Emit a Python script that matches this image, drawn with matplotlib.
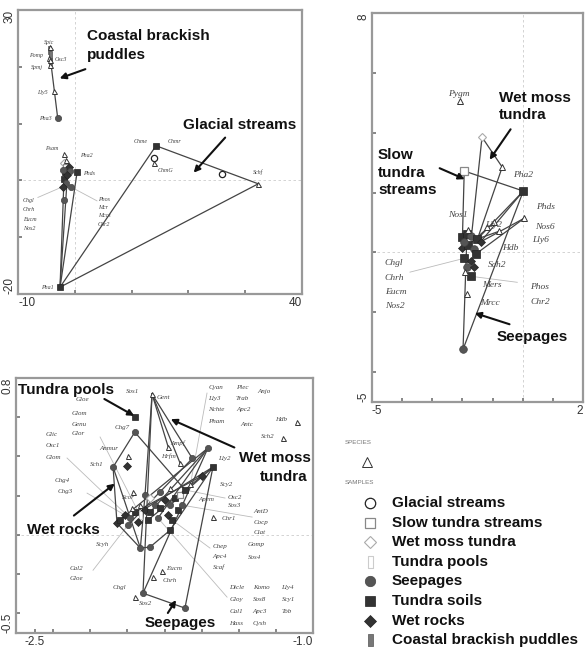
import matplotlib
matplotlib.use('Agg')
import matplotlib.pyplot as plt

W, H = 586, 653

group_names = ['Glacial streams', 'Slow tundra streams', 'Wet moss tundra', 'Tundra pools',
               'Seepages', 'Tundra soils', 'Wet rocks', 'Coastal brackish puddles']
SP = 8  # species marker

# ---- panel A (top left) ----
a_x = [-4.5, -4.4, -4.4, -4.3, -4.5, -4.3, -4.4, -3.7, -3.0, -1.9, -1.5, 0.4, -2.6, 14.3, 14.0,
       14.0, 25.9, 32.3, -1.9, -1.55, -1.0, -1.7, -0.85, -1.9, -1.55, -2.1, -1.9, -1.3, -2.0, -0.6]
a_y = [23.0, 22.0, 20.8, 23.4, 21.6, 21.2, 20.3, 15.7, 10.9, 4.7, 3.6, 1.4, -18.8, 6.1, 4.0,
       3.1, 1.2, -0.6, 3.0, 2.3, 2.4, 1.4, 1.7, 0.3, -0.4, -1.1, -3.4, 0.9, 1.9, -1.2]
a_kind = [7, 7, 7, SP, SP, SP, SP, SP, 4, SP, SP, 5, 5, 5, 0,
          SP, 0, SP, 2, 1, 6, 5, 4, 5, 4, 6, 4, 6, 4, 4]
a_links = [(0, 8), (12, 13), (13, 17), (12, 17), (12, 23), (12, 27), (12, 11)]
a_txt = ['Spic', 'Pomp', 'Osc3', 'Spmj', 'Lly5', 'Pha3', 'Psam', 'Pha2', 'Phds', 'Chme', 'Chmr',
         'ChmG', 'Schf', 'Pha1', 'Chgl', 'Chrh', 'Eucm', 'Nos2', 'Phos', 'Mcr', 'Mccs', 'Chr2']
a_tx = [-4.54, -5.6, -3.49, -5.6, -4.7, -4.0, -2.96, 0.92, 1.44, 12.9, 16.4,
        14.6, 31.4, -3.66, -9.1, -9.1, -9.1, -9.1, 4.08, 4.08, 4.08, 4.08]
a_ty = [24.35, 22.05, 21.34, 19.9, 15.5, 10.9, 5.6, 4.4, 1.2, 6.85, 6.85,
        1.7, 1.4, -18.8, -3.57, -5.16, -6.9, -8.5, -3.4, -4.8, -6.2, -7.8]
a_ha = ['center', 'right', 'left', 'right', 'right', 'right', 'right', 'left', 'left', 'right', 'left',
        'left', 'left', 'right'] + ['left'] * 8
a_leaders = [(-6.5, -3.0, 25), (3.9, -3.6, 29)]

# ---- panel B (top right) ----
b_x = [-2.08, -1.35, -0.68, -1.94, 0.02, 0.05, -1.71, -1.84, -1.98, -1.8, -1.2, -0.95, -0.8,
       -2.0, -1.85, -1.7, -1.5, -1.4, -2.0, -1.8, -1.6, -1.95, -1.7, -1.55, -1.85, -1.6, -1.95, -1.9]
b_y = [5.06, 3.85, 2.85, 2.72, 2.05, 1.14, -0.8, -1.4, -3.24, 0.75, 0.85, 1.0, 0.7,
       0.5, 0.6, 0.55, 0.45, 0.35, 0.15, 0.25, 0.1, -0.2, -0.3, -0.05, -0.5, -0.5, 0.35, -0.65]
b_kind = [SP, 2, SP, 1, 5, SP, 5, SP, 4, SP, SP, SP, SP,
          5, 5, 4, 5, 6, 6, 5, 4, 5, 6, 5, 4, 6, 4, SP]
b_links = [(8, 14), (8, 4), (3, 4), (3, 13), (1, 2), (1, 15), (2, 16), (17, 4), (16, 4),
           (17, 5), (23, 5), (19, 11), (16, 12)]
b_txt = ['Pygm', 'Pha2', 'Phds', 'Nos6', 'Lly6', 'Nos1', 'Lly2', 'Hdb', 'Sch2', 'Mers', 'Mrcc',
         'Phos', 'Chr2', 'Chgl', 'Chrh', 'Eucm', 'Nos2']
b_tx = [-2.12, -0.32, 0.45, 0.42, 0.32, -1.84, -1.25, -0.68, -1.15, -1.35, -1.41,
        0.25, 0.25, -4.57, -4.57, -4.57, -4.57]
b_ty = [5.3, 2.58, 1.51, 0.84, 0.41, 1.24, 0.91, 0.14, -0.43, -1.1, -1.7,
        -1.16, -1.66, -0.36, -0.86, -1.33, -1.8]
b_ha = ['center', 'left', 'left', 'left', 'left', 'right'] + ['left'] * 11
b_leaders = [(-3.74, -0.66, 21), (-0.18, -1.0, 6)]

# ---- panel C (bottom left) ----
c_x = [-1.867, -1.96, -1.96, -2.077, -1.997, -2.0, -1.78, -1.716, -1.65, -1.566, -1.539, -1.905,
       -1.916, -1.69, -1.93, -1.878, -1.813, -1.862, -1.959, -1.539, -2.056, -1.77, -1.086, -1.161,
       -2.040, -2.013, -1.986, -1.959, -1.932, -1.905, -1.878, -1.851, -1.824, -1.797, -1.770,
       -1.743, -1.716, -1.689, -1.997, -1.943, -1.889, -1.835, -1.781, -1.727, -1.878, -1.824,
       -1.770, -1.932, -1.759, -1.706, -1.975, -1.60, -1.66, -1.97]
c_y = [0.718, 0.60, 0.524, 0.346, 0.40, 0.35, 0.448, 0.366, 0.39, 0.443, 0.346, 0.203,
       -0.297, -0.373, -0.067, -0.062, -0.185, -0.215, -0.317, 0.091, 0.06, 0.024, 0.576, 0.494,
       0.076, 0.101, 0.086, 0.116, 0.101, 0.127, 0.116, 0.152, 0.137, 0.178, 0.152,
       0.188, 0.203, 0.229, 0.050, 0.065, 0.076, 0.086, 0.101, 0.127, 0.188, 0.218,
       0.239, 0.152, 0.076, 0.152, 0.137, 0.30, 0.26, 0.22]
c_kind = [SP, 5, 4, 4, SP, 6, SP, SP, 4, 4, 5, 4,
          4, 4, 4, 4, SP, SP, SP, SP, 6, 5, SP, SP,
          5, 6, 4, 5, 3, 6, 5, 4, 5, 6, 4,
          5, 1, 5, 4, 6, 5, 4, 6, 5, 2, 4,
          SP, SP, 5, 4, SP, 6, SP, SP]
c_links = [(3, 2), (3, 20), (3, 14), (2, 37), (20, 24), (20, 14), (0, 12), (0, 11), (0, 6), (0, 7),
           (0, 8), (12, 13), (12, 9), (13, 10), (14, 15), (15, 21), (11, 14), (24, 9), (26, 10),
           (30, 9), (38, 8), (40, 10), (41, 9), (34, 10), (27, 51), (21, 10)]
c_txt = ['Cyan', 'Lly3', 'Nchte', 'Pham', 'Plec', 'Trab', 'Apc2', 'Antc', 'Anjo', 'Hdb', 'Sch2',
         'Gloe', 'Glom', 'Genu', 'Glor', 'Glic', 'Osc1', 'Glom', 'Chg4', 'Chg3',
         'Anmur', 'Sch1', 'Chg7', 'Sos1', 'Gent', 'Ampf', 'Hrfm', 'Lly2', 'Scy2',
         'Osc2', 'Sos3', 'Apem', 'AntD', 'Cocp', 'Clat', 'Chr1', 'Scor', 'Scyh',
         'Chep', 'Apc4', 'Scaf', 'Gomp', 'Sos4', 'Cal2', 'Gloe', 'Eucm', 'Chrh', 'Chgl', 'Sos2',
         'Dicle', 'Komo', 'Lly4', 'Gloy', 'Sos8', 'Scy1', 'Cal1', 'Apc3', 'Tob', 'Hass', 'Cysh']
c_tx = [-1.565, -1.565, -1.565, -1.565, -1.415, -1.415, -1.415, -1.39, -1.30, -1.205, -1.28,
        -2.28, -2.30, -2.30, -2.30, -2.44, -2.44, -2.44, -2.39, -2.375,
        -2.15, -2.20, -2.07, -2.01, -1.84, -1.77, -1.82, -1.51, -1.50,
        -1.46, -1.46, -1.62, -1.32, -1.32, -1.32, -1.49, -2.03, -2.17,
        -1.54, -1.54, -1.54, -1.35, -1.35, -2.31, -2.31, -1.79, -1.81, -2.08, -1.94,
        -1.45, -1.325, -1.17, -1.45, -1.325, -1.17, -1.45, -1.325, -1.17, -1.45, -1.325]
c_ty = [0.754, 0.698, 0.637, 0.576, 0.754, 0.698, 0.637, 0.565, 0.73, 0.586, 0.50,
        0.69, 0.62, 0.565, 0.515, 0.51, 0.458, 0.397, 0.28, 0.22,
        0.44, 0.36, 0.55, 0.73, 0.70, 0.47, 0.40, 0.39, 0.255,
        0.19, 0.15, 0.18, 0.12, 0.065, 0.01, 0.085, 0.19, -0.05,
        -0.06, -0.11, -0.165, -0.05, -0.115, -0.17, -0.22, -0.17, -0.23, -0.27, -0.35,
        -0.266, -0.266, -0.266, -0.328, -0.328, -0.328, -0.389, -0.389, -0.389, -0.45, -0.45]
c_leaders = [(-2.147, 0.499, 28), (-2.325, 0.392, 26), (-2.217, 0.213, 25), (-2.185, -0.18, 38),
             (-1.463, -0.317, 41), (-1.555, -0.067, 48), (-1.328, 0.091, 49), (-1.474, 0.188, 37),
             (-1.571, 0.723, 52)]

# habitat call-outs: text lines, position, arrow tail -> head
a_notes = [('Coastal brackish', 2.15, 25.4, 'left'), ('puddles', 2.15, 22.05, 'left'),
           ('Glacial streams', 19.05, 9.7, 'left')]
a_arrows = [(2.32, 19.75, -3.13, 17.8), (26.8, 7.9, 20.6, 1.0)]
b_notes = [('Wet moss', -0.78, 5.16, 'left'), ('tundra', -0.78, 4.59, 'left'),
           ('Slow', -4.8, 3.25, 'left'), ('tundra', -4.8, 2.65, 'left'),
           ('streams', -4.8, 2.08, 'left'), ('Seepages', -0.85, -2.84, 'left')]
b_arrows = [(-0.35, 4.19, -1.15, 3.02), (-2.84, 2.85, -1.84, 2.41), (-0.35, -2.43, -1.68, -2.0)]
c_notes = [('Tundra pools', -2.59, 0.74, 'left'), ('Wet moss', -1.01, 0.39, 'right'),
           ('tundra', -1.03, 0.295, 'right'), ('Wet rocks', -2.54, 0.025, 'left'),
           ('Seepages', -1.905, -0.45, 'left')]
c_arrows = [(-2.137, 0.70, -1.95, 0.60), (-1.41, 0.44, -1.78, 0.596),
            (-2.30, 0.09, -2.056, 0.27), (-1.79, -0.41, -1.73, -0.32)]

rect = [(-0.4, -1), (0.4, -1), (0.4, 1), (-0.4, 1), (-0.4, -1)]
styles = {
    0: dict(marker='o', ms=5, mfc='white', mec='#222', mew=0.9),
    1: dict(marker='s', ms=5, mfc='white', mec='#888', mew=0.9),
    2: dict(marker='D', ms=4, mfc='white', mec='#aaa', mew=0.8),
    3: dict(marker=rect, ms=6, mfc='white', mec='#ccc', mew=0.8),
    4: dict(marker='o', ms=5, mfc='#555', mec='#444', mew=0.5),
    5: dict(marker='s', ms=5, mfc='#333', mec='#222', mew=0.5),
    6: dict(marker='D', ms=4, mfc='#333', mec='#222', mew=0.5),
    7: dict(marker=rect, ms=6, mfc='#777', mec='#555', mew=0.5),
    SP: dict(marker='^', ms=4, mfc='white', mec='#333', mew=0.7),
}
BOLD = dict(family='Liberation Sans', weight='bold', fontsize=11, color='#111')


def draw_panel(ax, xs, ys, kinds, links, leaders, txt, tx, ty, ha, fsize, notes, arrows, ms_scale=1.0):
    for x0, y0, k in leaders:
        ax.plot([x0, xs[k]], [y0, ys[k]], color='#bbb', lw=0.6, zorder=1)
    for i, j in links:
        ax.plot([xs[i], xs[j]], [ys[i], ys[j]], color='#444', lw=0.9, zorder=2)
    for x, y, k in zip(xs, ys, kinds):
        st = dict(styles[k])
        st['ms'] = st['ms'] * ms_scale
        ax.plot(x, y, ls='none', zorder=4 if k == SP else 3, **st)
    for t, x, y, h in zip(txt, tx, ty, ha):
        ax.text(x, y, t, ha=h, va='center', fontsize=fsize, family='Liberation Serif',
                style='italic', color='#444', zorder=5)
    for t, x, y, h in notes:
        ax.text(x, y, t, ha=h, va='center', zorder=6, **BOLD)
    for x0, y0, x1, y1 in arrows:
        ax.annotate('', xy=(x1, y1), xytext=(x0, y0), zorder=6,
                    arrowprops=dict(arrowstyle='-|>', color='#111', lw=1.5, mutation_scale=9))


def frame(ax, xlim, ylim, xt, xl, yt, yl, first_x_ha='left', zero_x=True):
    ax.set_xlim(*xlim)
    ax.set_ylim(*ylim)
    ax.axhline(0, color='#ccc', lw=0.6, ls=(0, (3, 3)), zorder=0)
    if zero_x:
        ax.axvline(0, color='#ccc', lw=0.6, ls=(0, (3, 3)), zorder=0)
    for s in ax.spines.values():
        s.set_color('#999')
        s.set_linewidth(1.6)
    ax.set_xticks(xt)
    ax.set_xticklabels(xl, family='Liberation Sans')
    ax.set_yticks(yt)
    ax.set_yticklabels(yl, rotation=90, va='center', family='Liberation Sans')
    ax.tick_params(direction='in', length=3, width=1.1, color='#666', labelsize=8.5,
                   labelcolor='#333', pad=2)
    xlabs = ax.get_xticklabels()
    xlabs[0].set_ha(first_x_ha)
    xlabs[-1].set_ha('right')
    ylabs = ax.get_yticklabels()
    ylabs[0].set_va('bottom')
    ylabs[-1].set_va('top')


fig = plt.figure(figsize=(W / 100, H / 100), dpi=100)

axA = fig.add_axes([18 / W, 1 - 294 / H, 284 / W, 284 / H])
frame(axA, (-10, 40), (-20, 30), [-10, 0, 10, 20, 30, 40], ['-10', '', '', '', '', '40'],
      [-20, -10, 0, 10, 20, 30], ['-20', '', '', '', '', '30'])
draw_panel(axA, a_x, a_y, a_kind, a_links, a_leaders, a_txt, a_tx, a_ty, a_ha, 4.3,
           a_notes, a_arrows, 0.9)

axB = fig.add_axes([372 / W, 1 - 402 / H, 211 / W, 389 / H])
frame(axB, (-5, 2), (-5, 8), [-5, -4, -3, -2, -1, 0, 1, 2], ['-5', '', '', '', '', '', '', '2'],
      [-5, -4, -2, 0, 2, 4, 6, 8], ['-5', '', '', '', '', '', '', '8'])
draw_panel(axB, b_x, b_y, b_kind, b_links, b_leaders, b_txt, b_tx, b_ty, b_ha, 6.8,
           b_notes, b_arrows, 1.1)

axC = fig.add_axes([16 / W, 1 - 633 / H, 297 / W, 255 / H])
frame(axC, (-2.6, -1.0), (-0.5, 0.8),
      [-2.5, -2.4, -2.2, -2.0, -1.8, -1.6, -1.4, -1.2, -1.0], ['-2.5', '', '', '', '', '', '', '', '-1.0'],
      [-0.5, -0.4, -0.2, 0.0, 0.2, 0.4, 0.6, 0.8], ['-0.5', '', '', '', '', '', '', '0.8'],
      first_x_ha='center', zero_x=False)
draw_panel(axC, c_x, c_y, c_kind, c_links, c_leaders, c_txt, c_tx, c_ty, ['left'] * len(c_txt), 5.0,
           c_notes, c_arrows, 0.9)

# legend
lg = fig.add_axes([0, 0, 1, 1], facecolor='none')
lg.set_xlim(0, W)
lg.set_ylim(H, 0)
lg.axis('off')
lg.text(345, 443, 'SPECIES', fontsize=4.5, color='#777', va='center', family='Liberation Sans')
sp_st = dict(styles[SP])
sp_st['ms'] = 7
lg.plot(367, 462, ls='none', **sp_st)
lg.text(345, 482, 'SAMPLES', fontsize=4.5, color='#777', va='center', family='Liberation Sans')
for i, name in enumerate(group_names):
    y = 503 + i * 19.6
    st = dict(styles[i])
    st['ms'] = st['ms'] * 1.5
    lg.plot(370, y, ls='none', **st)
    lg.text(392, y, name, ha='left', va='center', **BOLD)

fig.savefig('out.png', dpi=100)
